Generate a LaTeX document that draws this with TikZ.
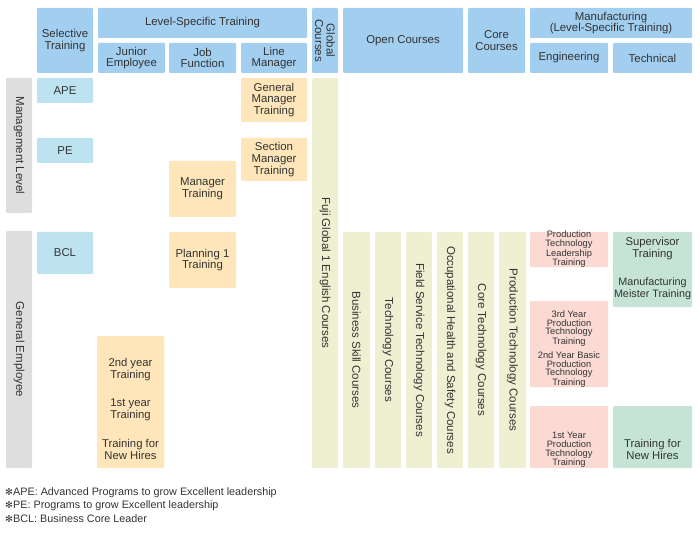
\documentclass[tikz,border=0pt]{standalone}
\usepackage{fontspec}
\setmainfont{Liberation Sans}
\newfontfamily\symfont{DejaVu Sans}
\definecolor{hblue}{HTML}{A2CEF0}
\definecolor{lblue}{HTML}{BEE3F0}
\definecolor{orng}{HTML}{FEE6BA}
\definecolor{beige}{HTML}{EFEFD2}
\definecolor{pink}{HTML}{FBDAD4}
\definecolor{grn}{HTML}{C6E4D6}
\definecolor{gry}{HTML}{DEDEDE}
\definecolor{txt}{HTML}{333333}
\tikzset{
  cell/.style={inner sep=0pt, outer sep=0pt, rounded corners=1pt, anchor=north west, align=center, text=txt, font=\fontsize{11.4}{11.6}\selectfont},
  hdr/.style={cell, fill=hblue},
  sel/.style={cell, fill=lblue},
  lvl/.style={cell, fill=orng},
  col/.style={cell, fill=beige},
  eng/.style={cell, fill=pink},
  tech/.style={cell, fill=grn},
  side/.style={cell, fill=gry},
  vtext/.style={rotate=-90, align=center, text=txt, inner sep=0pt, font=\fontsize{11.5}{11.6}\selectfont},
  btext/.style={align=center, text=txt, inner sep=0pt, font=\fontsize{11.3}{11.6}\selectfont},
  stext/.style={align=center, text=txt, inner sep=0pt, font=\fontsize{9.3}{8.6}\selectfont},
  note/.style={anchor=west, text=txt, inner sep=0pt, font=\fontsize{10.8}{12}\selectfont}
}
% \mybox{name}{x1}{y1}{x2}{y2}{style}{text}
\newcommand{\mybox}[7]{\node[#6, minimum width={#4-#2}, minimum height={#5-#3}] (#1) at (#2,-#3) {#7};}
\newcommand{\myast}{{\symfont\fontsize{9.5}{10}\selectfont ✻}}
\begin{document}
\begin{tikzpicture}[x=1pt,y=1pt]
\useasboundingbox (0,0) rectangle (700,-534);
% header
\mybox{hsel}{37}{8}{93}{73}{hdr}{Selective\\Training}
\mybox{hlst}{98}{8}{307}{38}{hdr}{Level-Specific Training}
\mybox{hjun}{98}{43}{165}{73}{hdr}{Junior\\Employee}
\mybox{hjob}{169}{43}{236}{73}{hdr}{Job\\Function}
\mybox{hlin}{241}{43}{307}{73}{hdr}{Line\\Manager}
\mybox{hglb}{312}{8}{338}{73}{hdr}{}
\node[vtext] (hglbt) at (hglb.center) {Global\\Courses};
\mybox{hopn}{343}{8}{463}{73}{hdr}{Open Courses}
\mybox{hcor}{468}{8}{525}{73}{hdr}{Core\\Courses}
\mybox{hmfg}{530}{8}{692}{38}{hdr}{Manufacturing\\(Level-Specific Training)}
\mybox{heng}{530}{43}{608}{73}{hdr}{Engineering}
\mybox{htec}{613}{43}{692}{73}{hdr}{Technical}
% side labels
\mybox{mgmt}{6}{78}{32}{213}{side}{}
\node[vtext] (mgmtt) at (mgmt.center) {Management Level};
\mybox{gen}{6}{231}{32}{468}{side}{}
\node[vtext] (gent) at (gen.center) {General Employee};
% selective
\mybox{ape}{37}{78}{93}{103}{sel}{APE}
\mybox{pe}{37}{138}{93}{163}{sel}{PE}
\mybox{bcl}{37}{232}{93}{274}{sel}{BCL}
% level-specific
\mybox{gmt}{241}{78}{307}{122}{lvl}{General\\Manager\\Training}
\mybox{smt}{241}{138}{307}{181}{lvl}{Section\\Manager\\Training}
\mybox{mt}{169}{161}{236}{217}{lvl}{Manager\\Training}
\mybox{pl1}{169}{232}{236}{288}{lvl}{Planning 1\\Training}
\mybox{jr}{97}{336}{164}{468}{lvl}{}
\node[btext] (jr2) at (130.5,-369.5) {2nd year\\Training};
\node[btext] (jr1) at (130.5,-409.5) {1st year\\Training};
\node[btext] (jrn) at (130.5,-449.5) {Training for\\New Hires};
% global / open / core columns
\mybox{fuji}{312}{78}{338}{468}{col}{}
\node[vtext] (fujit) at (fuji.center) {Fuji Global 1 English Courses};
\mybox{bs}{343}{232}{370}{468}{col}{}
\node[vtext] (bst) at (bs.center) {Business Skill Courses};
\mybox{tc}{375}{232}{401}{468}{col}{}
\node[vtext] (tct) at (tc.center) {Technology Courses};
\mybox{fs}{406}{232}{432}{468}{col}{}
\node[vtext] (fst) at (fs.center) {Field Service Technology Courses};
\mybox{oh}{437}{232}{463}{468}{col}{}
\node[vtext] (oht) at (oh.center) {Occupational Health and Safety Courses};
\mybox{ct}{468}{232}{494}{468}{col}{}
\node[vtext] (ctt) at (ct.center) {Core Technology Courses};
\mybox{pt}{499}{232}{526}{468}{col}{}
\node[vtext] (ptt) at (pt.center) {Production Technology Courses};
% engineering
\mybox{ptl}{530}{232}{608}{267}{eng}{}
\node[stext] (ptlt) at (ptl.center) {Production\\Technology\\Leadership\\Training};
\mybox{p3}{530}{301}{608}{387}{eng}{}
\node[stext] (p3a) at (569,-328.5) {3rd Year\\Production\\Technology\\Training};
\node[stext] (p3b) at (569,-369.5) {2nd Year Basic\\Production\\Technology\\Training};
\mybox{p1}{530}{406}{608}{468}{eng}{}
\node[stext] (p1t) at (569,-450) {1st Year\\Production\\Technology\\Training};
% technical
\mybox{sup}{613}{232}{692}{307}{tech}{}
\node[btext] (supa) at (652.5,-248.5) {Supervisor\\Training};
\node[btext, font=\fontsize{10.8}{11.6}\selectfont] (supb) at (652.5,-288.5) {Manufacturing\\Meister Training};
\mybox{gnh}{613}{406}{692}{468}{tech}{}
\node[btext] (gnht) at (652.5,-449.5) {Training for\\New Hires};
% notes
\node[note] (n1) at (5,-493) {\myast APE: Advanced Programs to grow Excellent leadership};
\node[note] (n2) at (5,-506) {\myast PE: Programs to grow Excellent leadership};
\node[note] (n3) at (5,-519) {\myast BCL: Business Core Leader};
\end{tikzpicture}
\end{document}
